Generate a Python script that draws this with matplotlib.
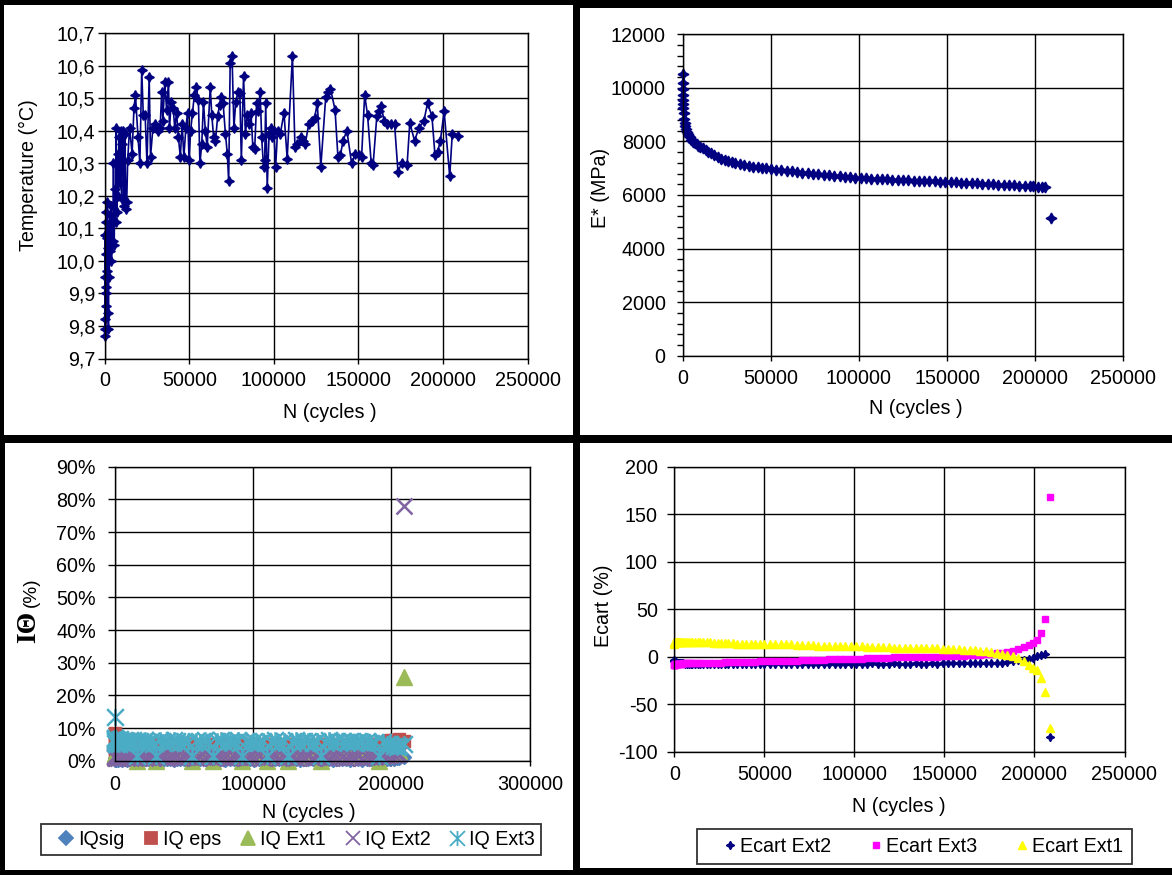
import matplotlib
matplotlib.use("Agg")
import matplotlib.pyplot as plt
from matplotlib.patches import Rectangle
from matplotlib.path import Path
from matplotlib.ticker import FixedLocator, FuncFormatter

plt.rcParams['font.family'] = ['Liberation Sans', 'DejaVu Sans']
plt.rcParams['font.size'] = 14.2

# ---------------- data ----------------
# Temperature vs cycles (top-left)
temp_n = [0, 100, 200, 300, 400, 500, 600, 700, 800, 900, 1000, 1200, 1400, 1600, 1800,
          2000, 2200, 2400, 2700, 3000, 3300, 3600, 4000, 4400, 4800, 5200, 5600, 6000,
          6400, 6800, 7200, 7600, 8000, 8500, 9000, 9500, 10000, 10500, 11000, 11500,
          12000, 12500, 13000,
          13600, 14700, 16200, 17300, 18200, 19700, 20800, 21900, 22800, 23900, 25000,
          26300, 27100, 28500, 30000, 31700, 32800, 33700, 34400, 35500, 36600, 37700,
          38300, 39400, 40500, 41400, 42500, 43600, 44700, 45800, 46800, 48000, 49000,
          49900, 50800, 51900, 53000, 54100, 55400, 56300, 57400, 58400, 59500, 60600,
          62400, 63300, 64400, 65500, 66800, 67900, 69000, 70000, 71400, 72500, 73300,
          74200, 75300, 76400, 77500, 78800, 79900, 80800, 82100, 83200, 84300, 85400,
          86500, 87600, 88700, 89800, 90800, 91900, 92800, 93900, 94600, 95200, 96100,
          97200, 98100, 98900, 100000, 101100, 102200, 103800, 106000, 107900, 111000,
          112500, 113800, 115800, 117100, 118600, 120600, 122400, 124100, 125700, 127800,
          130700, 132200, 133500, 136200, 137900, 139400, 140900, 143200, 146000, 148200,
          150400, 151900, 153700, 155400, 157600, 158700, 160900, 162400, 163500, 165300,
          166800, 169000, 171400, 173400, 175600, 178800, 180400, 183200, 185900, 188700,
          190900, 193500, 195300, 196800, 198500, 200700, 204000, 205500, 209000]
temp_c = [9.77, 9.82, 9.95, 10.08, 9.79, 9.92, 10.12, 9.86, 10.02, 10.15, 9.90, 10.07,
          9.97, 10.18, 9.84, 10.04, 9.79, 10.10, 9.95, 10.14, 10.03, 10.17, 10.00, 10.12,
          10.06, 10.30, 10.05, 10.22, 10.12, 10.41, 10.15, 10.33, 10.20, 10.38, 10.24,
          10.40, 10.19, 10.36, 10.40, 10.17, 10.39, 10.16, 10.18,
          10.31, 10.41, 10.33, 10.47, 10.51, 10.38, 10.30, 10.587, 10.45, 10.45, 10.30,
          10.567, 10.32, 10.41, 10.42, 10.40, 10.41, 10.52, 10.43, 10.55, 10.465, 10.55,
          10.41, 10.49, 10.47, 10.41, 10.455, 10.38, 10.32, 10.42, 10.32, 10.41, 10.455,
          10.31, 10.40, 10.455, 10.51, 10.535, 10.495, 10.30, 10.36, 10.49, 10.40, 10.35,
          10.535, 10.45, 10.38, 10.37, 10.445, 10.48, 10.505, 10.485, 10.39, 10.33, 10.245,
          10.61, 10.63, 10.41, 10.49, 10.52, 10.515, 10.31, 10.57, 10.39, 10.45, 10.42,
          10.455, 10.35, 10.345, 10.485, 10.46, 10.52, 10.38, 10.29, 10.31, 10.485, 10.225,
          10.39, 10.41, 10.38, 10.40, 10.29, 10.40, 10.39, 10.455, 10.315, 10.63,
          10.35, 10.36, 10.38, 10.37, 10.36, 10.42, 10.43, 10.44, 10.485, 10.29,
          10.505, 10.52, 10.53, 10.465, 10.32, 10.325, 10.37, 10.40, 10.30, 10.33,
          10.325, 10.32, 10.51, 10.45, 10.30, 10.295, 10.445, 10.46, 10.475, 10.43,
          10.42, 10.42, 10.42, 10.275, 10.30, 10.295, 10.425, 10.37, 10.41, 10.43,
          10.485, 10.445, 10.325, 10.335, 10.37, 10.46, 10.26, 10.39, 10.385]

# Cycle numbers shared by E*, IQ and Ecart series
n_cycles = [0, 50, 100, 200, 300, 400, 500, 700, 1000, 1300, 1600,
            2000, 2500, 3000, 3500, 4000, 5000, 6000, 7000, 8000, 9000,
            10000, 11500, 13000, 14500, 16000, 18000, 20000, 22000, 24000, 26000,
            28000, 30000, 32500, 35000, 37500, 40000, 42500, 45000, 47500, 50000,
            53000, 56000, 59000, 62000, 65000, 68000, 71000, 74000, 77000, 80000,
            83000, 86000, 89000, 92000, 95000, 98000, 101000, 104000, 107000, 110000,
            113000, 116000, 119000, 122000, 125000, 128000, 131000, 134000, 137000, 140000,
            143000, 146000, 149000, 152000, 155000, 158000, 161000, 164000, 167000, 170000,
            173000, 176000, 179000, 182000, 185000, 188000, 191000, 194000, 197000,
            199000, 201500, 203800, 205800, 208800]

modulus = [10500, 10200, 9950, 9750, 9550, 9400, 9250, 9050, 8850, 8700, 8580,
           8450, 8350, 8270, 8200, 8150, 8060, 7990, 7940, 7890, 7840,
           7800, 7750, 7680, 7620, 7560, 7480, 7420, 7360, 7310, 7270, 7230, 7200, 7160,
           7120, 7090, 7060, 7030, 7010, 6990, 6970,
           6950, 6920, 6900, 6880, 6860, 6840, 6820, 6800, 6780, 6760,
           6740, 6720, 6700, 6680, 6660, 6640, 6630, 6620, 6610, 6600,
           6590, 6580, 6570, 6560, 6560, 6550, 6540, 6530, 6520, 6510,
           6510, 6500, 6490, 6480, 6470, 6460, 6450, 6440, 6430, 6420,
           6410, 6400, 6390, 6380, 6370, 6360, 6350, 6340, 6330,
           6320, 6310, 6300, 6290, 5150]

iq_sig = [0.8, 0.5, 0.4, 0.6, 0.3, 0.5, 0.4, 0.6, 0.3, 0.5, 0.4,
          0.5, 0.3, 0.6, 0.4, 0.5, 0.3, 0.4, 0.6, 0.5, 0.3,
          0.4, 0.6, 0.3, 0.5, 0.4, 0.3, 0.5, 0.6, 0.4, 0.3, 0.5, 0.4, 0.6, 0.3, 0.5,
          0.4, 0.3, 0.6, 0.4, 0.5,
          0.4, 0.3, 0.5, 0.6, 0.4, 0.3, 0.5, 0.4, 0.6, 0.3,
          0.5, 0.4, 0.3, 0.6, 0.4, 0.5, 0.3, 0.4, 0.6, 0.5,
          0.3, 0.4, 0.5, 0.6, 0.3, 0.4, 0.5, 0.3, 0.6, 0.4,
          0.5, 0.3, 0.4, 0.6, 0.5, 0.3, 0.4, 0.5, 0.6, 0.3,
          0.4, 0.5, 0.3, 0.6, 0.4, 0.5, 0.3, 0.4, 0.5,
          0.5, 0.6, 0.7, 0.8, 1.0]
iq_eps = [8.5, 3.0, 6.5, 2.0, 7.5, 4.0, 6.0, 5.0, 7.0, 4.5, 6.0,
          5.5, 6.5, 5.0, 6.0, 5.5, 5.2, 5.3, 5.0, 5.1, 5.0,
          5.1, 4.9, 5.2, 5.0, 5.1, 4.8, 5.0, 5.2, 4.9, 5.0, 5.2, 4.9, 5.1, 4.9, 5.0,
          5.2, 4.9, 5.1, 4.8, 5.0,
          5.1, 4.9, 5.2, 4.8, 5.0, 5.1, 4.9, 5.2, 4.8, 5.0,
          5.1, 4.9, 5.0, 5.2, 4.8, 5.0, 5.1, 4.9, 5.2, 5.0,
          4.8, 5.1, 4.9, 5.0, 5.2, 4.9, 5.1, 4.8, 5.0, 5.2,
          4.9, 5.1, 5.0, 4.8, 5.2, 4.9, 5.0, 5.1, 4.9, 5.2,
          5.0, 4.8, 5.1, 4.9, 5.2, 5.0, 5.1, 5.3, 5.6,
          6.2, 6.4, 6.0, 6.6, 6.0]
iq_ext1 = [1.5, 1.8, 2.0, 1.6, 1.9, 1.7, 2.0, 1.8, 1.6, 1.9, 1.8,
           1.7, 2.0, 1.8, 1.6, 1.9, 1.8, 1.7, 2.0, 1.8, 1.6,
           1.9, 1.8, 1.7, 2.0, 0.0, 1.8, 1.9, 1.7, 1.8, 2.0, 1.6, 0.0, 1.8, 1.9, 1.7,
           1.8, 2.0, 1.6, 1.9, 1.8,
           1.7, 0.0, 1.8, 1.9, 1.7, 2.0, 0.0, 1.8, 1.6, 1.9,
           1.8, 1.7, 2.0, 0.0, 1.6, 1.8, 1.9, 1.8, 1.7, 0.0,
           2.0, 1.8, 1.6, 1.9, 0.0, 1.8, 1.7, 2.0, 1.8, 1.6,
           1.9, 1.8, 0.0, 1.7, 2.0, 1.8, 1.6, 1.9, 1.8, 1.7,
           2.0, 1.8, 1.6, 1.9, 1.8, 1.7, 0.0, 1.9, 2.0,
           2.1, 2.3, 2.6, 3.0, 25.5]
iq_ext2 = [1.5, 1.2, 1.0, 1.3, 0.9, 1.1, 1.0, 1.2, 0.8, 1.1, 1.0,
           1.2, 0.9, 1.1, 1.0, 1.3, 0.8, 1.1, 1.0, 1.2, 0.9,
           1.1, 1.0, 1.2, 0.9, 1.0, 1.3, 1.1, 0.8, 1.0, 1.2, 0.9, 1.1, 1.0, 1.2, 0.9,
           1.1, 1.0, 1.3, 0.9, 1.1,
           1.0, 1.2, 0.9, 1.1, 1.0, 1.3, 0.9, 1.1, 1.0, 1.2,
           0.8, 1.1, 1.0, 1.2, 0.9, 1.1, 1.0, 1.3, 0.9, 1.1,
           1.0, 1.2, 0.9, 1.0, 1.1, 1.2, 0.9, 1.1, 1.0, 1.3,
           0.9, 1.1, 1.0, 1.2, 0.8, 1.1, 1.0, 1.2, 0.9, 1.1,
           1.0, 1.3, 0.9, 1.1, 1.0, 1.2, 1.1, 1.3, 1.5,
           1.6, 1.8, 2.0, 2.2, 78.0]
iq_ext3 = [13.5, 7.0, 6.5, 6.0, 6.8, 5.5, 6.2, 5.2, 6.5, 5.8, 6.0,
           5.5, 6.2, 5.0, 6.5, 5.8, 6.0, 5.3, 6.4, 5.6, 6.1,
           5.9, 5.4, 6.3, 5.7, 1.5, 6.0, 5.5, 6.4, 5.8, 6.1, 5.2, 1.5, 6.2, 5.7, 6.0,
           5.4, 6.3, 5.9, 5.5, 6.1,
           5.8, 1.5, 6.0, 5.6, 6.3, 5.4, 1.5, 5.9, 6.2, 5.5,
           6.0, 5.7, 6.3, 1.5, 5.9, 5.4, 6.1, 5.5, 6.0, 1.5,
           5.8, 6.2, 5.4, 6.0, 1.5, 5.7, 6.3, 5.5, 5.9, 6.1,
           5.4, 6.0, 1.5, 5.8, 6.2, 5.5, 5.9, 6.1, 5.6, 6.0,
           5.4, 5.9, 5.7, 6.1, 5.5, 5.8, 1.5, 5.6, 5.2,
           5.0, 4.6, 4.2, 4.5, 5.0]

ecart_ext2 = [-3.5, -4.0, -4.5, -5.0, -5.5, -5.5, -6.0, -6.0, -6.5, -6.5, -6.5,
              -7.0, -7.0, -7.0, -7.0, -7.0, -7.0, -7.5, -7.5, -7.5, -7.5,
              -7.5, -7.5, -7.5, -7.8, -7.5, -7.5, -7.8, -7.5, -7.5, -7.8, -7.5, -7.8,
              -7.5, -7.5, -7.8, -7.5, -7.5, -7.8, -7.5, -7.5,
              -7.6, -7.5, -7.7, -7.6, -7.5, -7.7, -7.6, -7.5, -7.6, -7.7,
              -7.5, -7.6, -7.5, -7.6, -7.4, -7.5, -7.3, -7.2, -7.3, -7.1,
              -7.2, -7.3, -7.2, -7.1, -7.2, -7.2, -7.3, -7.1, -7.2, -7.2,
              -7.1, -7.2, -7.0, -7.0, -7.1, -6.9, -7.0, -7.0, -6.9, -7.0,
              -6.8, -6.8, -6.7, -6.3, -5.6, -4.8, -3.8, -3.0, -2.2,
              -1.0, 0.5, 1.5, 2.5, -85.0]
ecart_ext3 = [-9.0, -9.0, -8.5, -8.5, -8.5, -8.0, -8.0, -8.0, -8.0, -7.8, -7.8,
              -7.5, -7.5, -7.5, -7.2, -7.2, -7.0, -7.0, -7.0, -7.0, -6.8,
              -6.8, -6.8, -6.5, -6.5, -6.5, -6.5, -6.3, -6.3, -6.2, -6.2, -6.0, -6.0,
              -5.8, -5.8, -5.5, -5.5, -5.3, -5.2, -5.0, -5.0,
              -4.8, -4.7, -4.5, -4.4, -4.2, -4.0, -3.9, -3.7, -3.5, -3.3,
              -3.1, -2.9, -2.7, -2.5, -2.4, -2.2, -2.1, -2.0, -1.8, -1.6,
              -1.4, -1.2, -1.0, -0.8, -0.6, -0.5, -0.4, -0.3, -0.2, -0.1,
              0.0, 0.1, 0.3, 0.5, 0.7, 0.9, 1.1, 1.4, 1.7, 2.0,
              2.5, 3.0, 3.5, 4.3, 5.2, 6.5, 8.0, 10.0, 12.0,
              14.0, 17.5, 25.0, 40.0, 168.0]
ecart_ext1 = [13.0, 14.0, 15.0, 15.5, 15.5, 15.5, 15.5, 15.5, 15.5, 15.5, 15.5,
              15.5, 15.5, 15.5, 15.5, 15.5, 15.5, 15.5, 15.5, 15.5, 15.5,
              15.5, 15.5, 15.5, 15.5, 15.5, 15.5, 15.0, 14.5, 14.5, 14.0, 14.0, 14.0,
              14.0, 13.8, 13.8, 13.8, 13.5, 13.5, 13.5, 13.5,
              13.5, 13.5, 13.3, 13.3, 13.0, 12.0, 12.0, 11.8, 11.8, 11.5,
              11.5, 11.5, 11.3, 11.3, 11.2, 11.2, 11.0, 11.0, 10.5, 10.0,
              10.0, 9.8, 9.8, 9.6, 9.5, 9.4, 9.3, 9.2, 9.0, 9.0,
              8.8, 8.7, 8.5, 8.2, 8.0, 7.8, 7.5, 7.2, 6.8, 6.2,
              5.5, 4.8, 4.0, 3.0, 2.0, 0.5, -1.5, -4.5, -8.5,
              -12.0, -14.0, -22.0, -37.5, -75.0]

temp_ticks = [9.7, 9.8, 9.9, 10.0, 10.1, 10.2, 10.3, 10.4, 10.5, 10.6, 10.7]
n_ticks_250 = [0, 50000, 100000, 150000, 200000, 250000]
n_ticks_300 = [0, 100000, 200000, 300000]
mod_ticks = [0, 2000, 4000, 6000, 8000, 10000, 12000]
iq_ticks = [0, 10, 20, 30, 40, 50, 60, 70, 80, 90]
ecart_ticks = [-100, -50, 0, 50, 100, 150, 200]

iq_labels = ["IQsig", "IQ eps", "IQ Ext1", "IQ Ext2", "IQ Ext3"]
ecart_labels = ["Ecart Ext2", "Ecart Ext3", "Ecart Ext1"]

# ---------------- figure ----------------
W, H = 1172, 875
fig = plt.figure(figsize=(W / 100, H / 100), dpi=100, facecolor='black')


def rect(l, t, r, b):
    return [l / W, 1 - b / H, (r - l) / W, (b - t) / H]


for (l, t, r, b) in [(4, 5, 573, 435), (580, 8, 1172, 435),
                     (5, 443, 573, 870), (580, 443, 1172, 868)]:
    fig.add_artist(Rectangle((l / W, 1 - b / H), (r - l) / W, (b - t) / H,
                             transform=fig.transFigure, facecolor='white',
                             edgecolor='none', zorder=-10))


def ftext(x, y, s, **kw):
    fig.text(x / W, 1 - y / H, s, ha='center', va='center', **kw)


PT = 72 / 100.0  # points per pixel
FS = 14.2


def style(ax, ylen, ypad, xpad):
    ax.set_facecolor('white')
    ax.grid(True, color='black', lw=1.0)
    ax.set_axisbelow(True)
    for s in ax.spines.values():
        s.set_color('black')
        s.set_linewidth(1.0)
    ax.tick_params(axis='both', which='both', direction='out', colors='black',
                   labelsize=FS, width=1.0)
    ax.tick_params(axis='x', length=5 * PT, pad=xpad * PT)
    ax.tick_params(axis='y', length=ylen * PT, pad=ypad * PT)


int_fmt = FuncFormatter(lambda v, p: f"{v:.0f}")
NAVY = '#000080'
star4 = (4, 1, 0)

# ---- top-left : temperature ----
ax1 = fig.add_axes(rect(104.7, 33.3, 527.5, 358.5))
ax1.plot(temp_n, temp_c, color=NAVY, lw=1.2, marker=star4, ms=7,
         mfc=NAVY, mec=NAVY, clip_on=False)
ax1.set_xlim(0, 250000)
ax1.set_ylim(9.7, 10.7)
ax1.xaxis.set_major_locator(FixedLocator(n_ticks_250))
ax1.yaxis.set_major_locator(FixedLocator(temp_ticks))
ax1.xaxis.set_major_formatter(int_fmt)
ax1.yaxis.set_major_formatter(FuncFormatter(lambda v, p: f"{v:.1f}".replace('.', ',')))
style(ax1, 6.7, 2.5, 8.0)
ftext(28.5, 175, "Temperature (°C)", rotation=90, fontsize=FS)
ftext(330, 413, "N (cycles )", fontsize=FS)

# ---- top-right : modulus ----
ax2 = fig.add_axes(rect(682.6, 34.3, 1123.4, 355.7))
ax2.plot(n_cycles, modulus, ls='none', marker=star4, ms=7.8, mfc=NAVY, mec=NAVY,
         clip_on=False)
ax2.set_xlim(0, 250000)
ax2.set_ylim(0, 12000)
ax2.xaxis.set_major_locator(FixedLocator(n_ticks_250))
ax2.yaxis.set_major_locator(FixedLocator(mod_ticks))
ax2.yaxis.set_minor_locator(FixedLocator([v for v in range(0, 12001, 400)]))
ax2.xaxis.set_major_formatter(int_fmt)
ax2.yaxis.set_major_formatter(int_fmt)
style(ax2, 6.4, 10.5, 8.0)
ax2.tick_params(axis='y', which='minor', length=6.4 * PT, width=1.0)
ftext(601, 188, "E* (MPa)", rotation=90, fontsize=FS)
ftext(916, 409, "N (cycles )", fontsize=FS)

# ---- bottom-left : IQ ----
ast = Path([(-1, -1), (1, 1), (-1, 1), (1, -1), (0, -1), (0, 1)],
           [Path.MOVETO, Path.LINETO, Path.MOVETO, Path.LINETO, Path.MOVETO, Path.LINETO])
ax3 = fig.add_axes(rect(114.7, 466.7, 529.8, 760.7))
iq_series = [iq_sig, iq_eps, iq_ext1, iq_ext2, iq_ext3]
iq_styles = [dict(marker='D', ms=7.5, mfc='#4F81BD', mec='#4F81BD'),
             dict(marker='s', ms=9, mfc='#C0504D', mec='#C0504D'),
             dict(marker='^', ms=11.5, mfc='#9BBB59', mec='#9BBB59'),
             dict(marker='x', ms=11, mec='#8064A2', mew=1.8),
             dict(marker=ast, ms=12, mfc='none', mec='#4BACC6', mew=1.8)]
iq_handles = []
for vals, st, lab in zip(iq_series, iq_styles, iq_labels):
    h, = ax3.plot(n_cycles, vals, ls='none', clip_on=False, label=lab, **st)
    iq_handles.append(h)
ax3.set_xlim(0, 300000)
ax3.set_ylim(0, 90)
ax3.xaxis.set_major_locator(FixedLocator(n_ticks_300))
ax3.yaxis.set_major_locator(FixedLocator(iq_ticks))
ax3.xaxis.set_major_formatter(int_fmt)
ax3.yaxis.set_major_formatter(FuncFormatter(lambda v, p: f"{v:.0f}%"))
style(ax3, 7.4, 11.5, 9.8)
ftext(29, 627, "IΘ", rotation=90, fontsize=20, fontweight='bold',
      family=['Liberation Serif', 'DejaVu Serif'])
ftext(31.5, 592, "(%)", rotation=90, fontsize=13.6)
ftext(309, 813, "N (cycles )", fontsize=FS)
leg1 = fig.legend(iq_handles, iq_labels, loc='center', ncol=5, mode='expand',
                  bbox_to_anchor=(41.4 / W, 1 - 856.7 / H, 499.6 / W, 35 / H),
                  bbox_transform=fig.transFigure, frameon=True, fancybox=False,
                  edgecolor='black', borderaxespad=0, borderpad=0.3,
                  handlelength=1.9, handletextpad=-0.35, numpoints=1,
                  fontsize=FS, markerscale=0.9)
leg1.get_frame().set_linewidth(1.3)
for lh in leg1.legend_handles:
    lh.set_markeredgewidth(1.3)

# ---- bottom-right : Ecart ----
ax4 = fig.add_axes(rect(674.3, 466.7, 1124.5, 751.7))
ec_series = [ecart_ext2, ecart_ext3, ecart_ext1]
ec_styles = [dict(marker=star4, ms=6, mfc=NAVY, mec=NAVY),
             dict(marker='s', ms=5, mfc='#FF00FF', mec='#FF00FF'),
             dict(marker='^', ms=6, mfc='#FFFF00', mec='#FFFF00')]
ec_handles = []
for vals, st, lab in zip(ec_series, ec_styles, ecart_labels):
    h, = ax4.plot(n_cycles, vals, ls='none', clip_on=False, label=lab, **st)
    ec_handles.append(h)
ax4.set_xlim(0, 250000)
ax4.set_ylim(-100, 200)
ax4.xaxis.set_major_locator(FixedLocator(n_ticks_250))
ax4.yaxis.set_major_locator(FixedLocator(ecart_ticks))
ax4.xaxis.set_major_formatter(int_fmt)
ax4.yaxis.set_major_formatter(int_fmt)
style(ax4, 6.8, 9.5, 8.8)
ftext(603.4, 606, "Ecart (%)", rotation=90, fontsize=FS)
ftext(899, 806.7, "N (cycles )", fontsize=FS)
leg2 = fig.legend(ec_handles, ecart_labels, loc='center', ncol=3, mode='expand',
                  bbox_to_anchor=(697 / W, 1 - 866 / H, 434.7 / W, 39.3 / H),
                  bbox_transform=fig.transFigure, frameon=True, fancybox=False,
                  edgecolor='black', borderaxespad=0, borderpad=0.42,
                  handlelength=2.5, handletextpad=-0.75, numpoints=1,
                  fontsize=FS)
leg2.get_frame().set_linewidth(1.3)

fig.savefig("out.png", dpi=100, facecolor=fig.get_facecolor())
